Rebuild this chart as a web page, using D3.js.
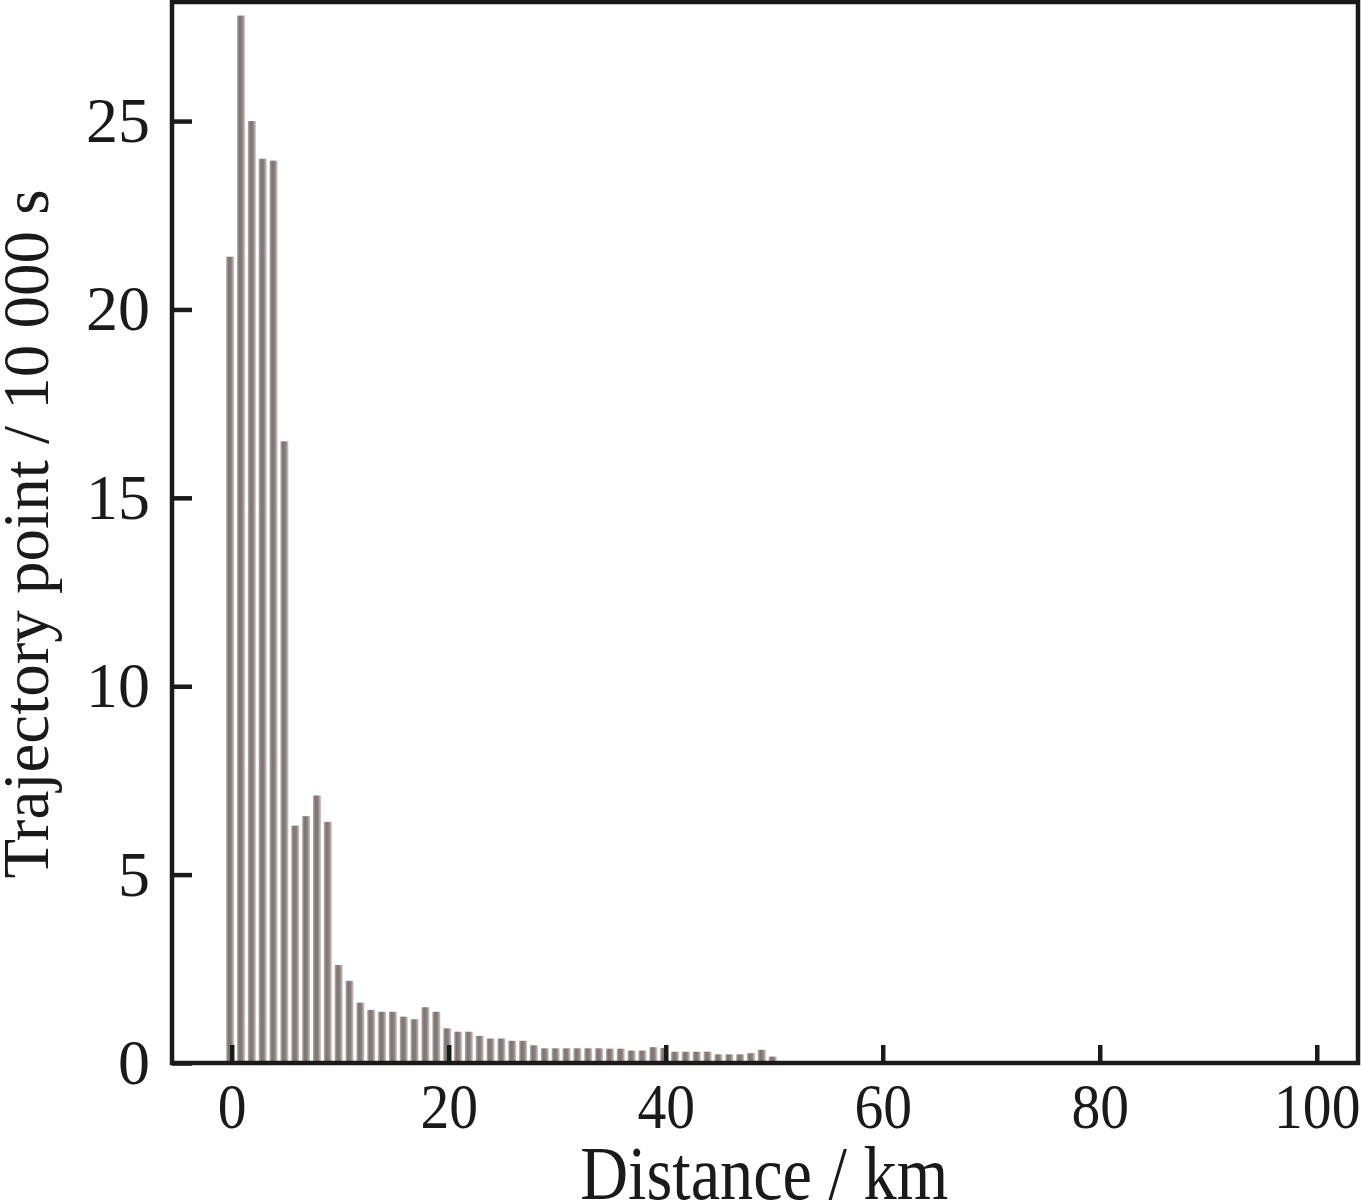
<!DOCTYPE html>
<html>
<head>
<meta charset="utf-8">
<script src="https://cdn.jsdelivr.net/npm/d3@7"></script>
<style>
	html, body { margin: 0; padding: 0; background: #fff; }
	svg { display: block; }
	text { font-family: "Liberation Serif", "Times New Roman", serif; fill: #1a1a1a; }
</style>
</head>
<body>
<svg id="chart" width="1362" height="1203"></svg>
<script>
// distance bins (km) and trajectory points (x 10 000 s)
var distances = d3.range(0, 51);
var points = [21.4, 27.8, 25.0, 24.0, 23.95, 16.5, 6.3, 6.55, 7.1, 6.4,
	2.6, 2.18, 1.6, 1.41, 1.36, 1.36, 1.23, 1.16, 1.48, 1.36,
	0.92, 0.83, 0.83, 0.72, 0.65, 0.65, 0.59, 0.59, 0.47, 0.39,
	0.39, 0.39, 0.39, 0.39, 0.39, 0.38, 0.38, 0.33, 0.33, 0.42,
	0.40, 0.30, 0.30, 0.30, 0.30, 0.23, 0.23, 0.23, 0.26, 0.35,
	0.17];
var xTicks = [0, 20, 40, 60, 80, 100];
var yTicks = [0, 5, 10, 15, 20, 25];
var xTitle = "Distance / km";
var yTitle = "Trajectory point / 10 000 s";

(function () {

	var data = distances.map(function (d, i) { return {km: d, value: points[i]}; });

	var svg = d3.select("#chart"),
		left = 172, right = 1358, top = 2, bottom = 1063;

	var x = d3.scaleLinear().domain([-5.5, 103.8]).range([left, right]);
	var y = d3.scaleLinear().domain([0, 28.16]).range([bottom, top]);

	// bar shading: light edges, darker core
	var grad = svg.append("defs").append("linearGradient")
		.attr("id", "barGrad")
		.attr("x1", "0%").attr("x2", "100%").attr("y1", "0%").attr("y2", "0%");
	grad.append("stop").attr("offset", "0%").attr("stop-color", "#b8aeae");
	grad.append("stop").attr("offset", "30%").attr("stop-color", "#7c7373");
	grad.append("stop").attr("offset", "65%").attr("stop-color", "#8a8080");
	grad.append("stop").attr("offset", "100%").attr("stop-color", "#d6cccc");

	var barW = 8;
	svg.append("g").selectAll("rect")
		.data(data)
		.enter().append("rect")
		.attr("x", function (d) { return x(d.km) - barW / 2 - 1.5; })
		.attr("y", function (d) { return y(d.value); })
		.attr("width", barW)
		.attr("height", function (d) { return y(0) - y(d.value); })
		.attr("fill", "url(#barGrad)");

	// axes with inward ticks
	var xAxis = svg.append("g")
		.attr("transform", "translate(0," + bottom + ")")
		.call(d3.axisBottom(x).tickValues(xTicks).tickSize(-18).tickPadding(20).tickFormat(d3.format("d")));
	var yAxis = svg.append("g")
		.attr("transform", "translate(" + left + ",0)")
		.call(d3.axisLeft(y).tickValues(yTicks).tickSize(-20).tickPadding(22).tickFormat(d3.format("d")));

	[xAxis, yAxis].forEach(function (ax) {
		ax.select(".domain").remove();
		ax.selectAll(".tick line").attr("stroke", "#1a1a1a").attr("stroke-width", 4.5);
		ax.selectAll(".tick text")
			.attr("fill", "#1a1a1a")
			.style("font-size", "64px")
			.style("font-family", "'Liberation Serif', 'Times New Roman', serif");
	});
	xAxis.selectAll(".tick text").attr("transform", "scale(0.9,1)");

	// frame
	svg.append("rect")
		.attr("x", left).attr("y", top)
		.attr("width", right - left).attr("height", bottom - top)
		.attr("fill", "none")
		.attr("stroke", "#1a1a1a")
		.attr("stroke-width", 4.5);

	// titles
	svg.append("text")
		.attr("x", (x(0) + x(100)) / 2 - 10)
		.attr("y", 1199)
		.attr("text-anchor", "middle")
		.attr("textLength", 368)
		.attr("lengthAdjust", "spacingAndGlyphs")
		.style("font-size", "76px")
		.text(xTitle);

	svg.append("text")
		.attr("transform", "translate(48,534) rotate(-90)")
		.attr("text-anchor", "middle")
		.style("font-size", "65px")
		.text(yTitle);

})();
</script>
</body>
</html>
